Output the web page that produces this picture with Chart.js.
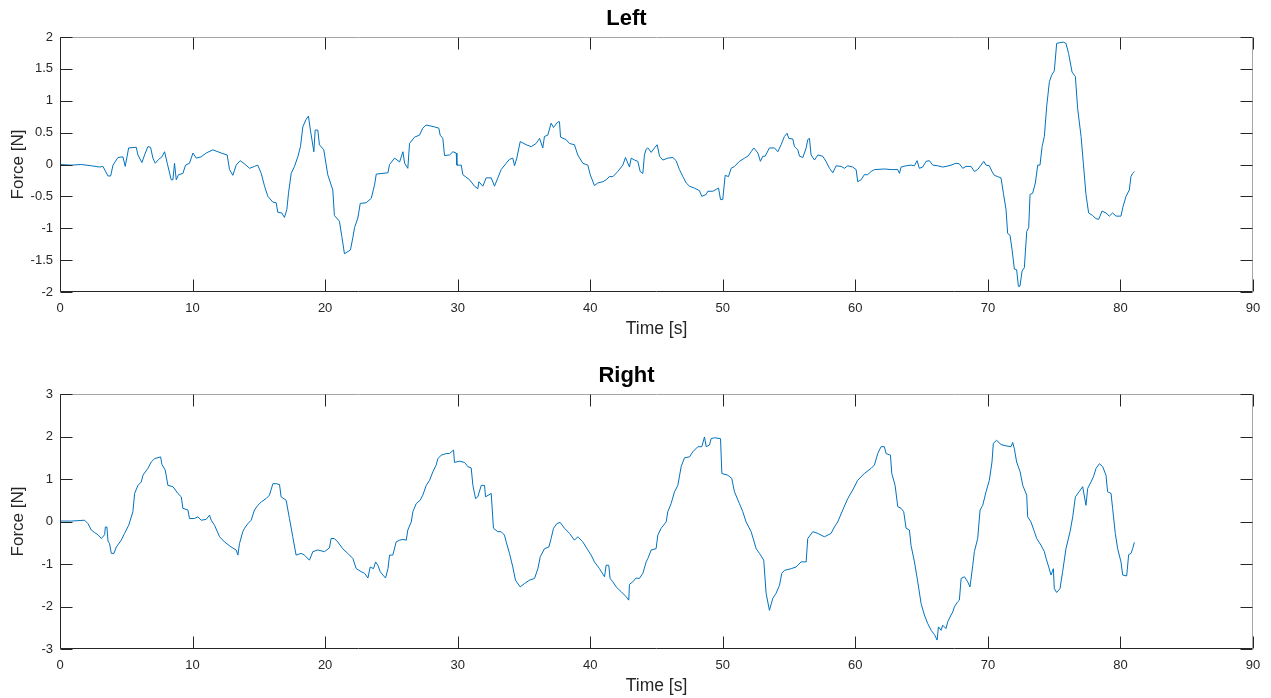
<!DOCTYPE html>
<html>
<head>
<meta charset="utf-8">
<script src="https://cdn.jsdelivr.net/npm/chart.js@4.4.0/dist/chart.umd.min.js"></script>
<style>
body{margin:0;background:#fff;width:1271px;height:698px;overflow:hidden;position:relative}
.box{position:absolute;left:0;width:1271px;height:341px}
</style>
</head>
<body>
<div class="box" style="top:0"><canvas id="leftChart"></canvas></div>
<div class="box" style="top:357px"><canvas id="rightChart"></canvas></div>
<script>
// sampled from the plot, time in s and force in N
var leftTime = [0,0.85,1.61,2.36,2.99,3.24,3.62,3.82,4.0,4.37,4.75,4.92,5.18,5.75,5.88,6.18,6.38,6.63,6.83,7.01,7.19,7.44,7.69,7.89,8.09,8.39,8.52,8.64,8.77,8.94,9.27,9.47,9.77,10.03,10.28,10.65,11.03,11.53,12.16,12.61,12.79,13.04,13.29,13.59,13.92,14.3,14.67,14.92,15.18,15.43,15.68,16.06,16.31,16.43,16.73,16.93,17.11,17.24,17.44,17.69,17.94,18.14,18.32,18.57,18.74,18.89,19.15,19.25,19.45,19.57,19.9,20.2,20.58,20.7,21.08,21.26,21.46,21.91,22.09,22.22,22.47,22.65,23.1,23.48,23.73,23.86,24.74,24.86,25.24,25.62,25.87,26.0,26.24,26.37,26.75,27.12,27.37,27.62,28.25,28.58,28.68,28.88,29.01,29.39,29.64,29.89,29.94,30.27,30.39,30.9,31.27,31.52,31.6,31.9,32.15,32.53,32.78,33.03,33.28,33.66,33.91,34.16,34.29,34.46,34.72,35.17,35.55,35.92,36.18,36.42,36.55,36.8,37.05,37.23,37.56,37.68,37.76,38.18,38.43,38.81,39.06,39.44,39.82,40.0,40.32,40.57,40.95,41.2,41.45,41.71,42.08,42.46,42.66,42.96,43.09,43.34,43.59,43.77,43.97,44.09,44.22,44.35,44.6,44.85,45.05,45.23,45.48,45.85,46.23,46.48,46.73,46.99,47.24,47.49,47.86,48.24,48.42,48.75,48.87,49.25,49.5,49.68,49.83,50.0,50.18,50.43,50.63,50.88,51.26,51.64,51.89,52.14,52.34,52.65,52.84,53.02,53.2,53.52,53.9,54.15,54.4,54.65,54.85,54.98,55.28,55.41,55.66,55.79,56.04,56.29,56.41,56.54,56.66,56.92,57.17,57.54,57.79,58.05,58.3,58.55,58.93,59.18,59.43,59.8,60.06,60.18,60.43,60.68,60.93,61.19,61.44,62.19,62.7,63.2,63.33,63.45,63.83,64.2,64.46,64.66,64.83,65.08,65.34,65.59,65.84,66.22,66.59,66.84,67.22,67.6,67.85,68.1,68.35,68.73,68.98,69.23,69.48,69.69,69.86,70.11,70.31,70.49,70.74,70.99,71.17,71.37,71.49,71.67,71.82,72.0,72.17,72.3,72.42,72.58,72.75,72.93,73.08,73.18,73.38,73.58,73.76,73.93,74.09,74.26,74.44,74.64,74.81,75.01,75.19,75.39,75.69,75.89,76.09,76.35,76.6,76.77,77.03,77.2,77.4,77.6,77.9,78.16,78.36,78.61,78.91,79.16,79.41,79.67,80.04,80.17,80.42,80.67,80.79,80.92,81.05];
var leftForce = [0,-0.01,0,-0.02,-0.04,-0.03,-0.18,-0.18,-0.01,0.11,0.12,-0.03,0.26,0.27,0.15,0.03,0.15,0.28,0.27,0.1,0.02,0.08,0.12,0.2,0.02,-0.24,-0.24,0.02,-0.24,-0.16,-0.14,-0.01,0.02,0.18,0.1,0.12,0.18,0.23,0.18,0.15,-0.08,-0.17,-0.01,0.06,0.01,-0.06,-0.03,-0.01,-0.14,-0.34,-0.5,-0.59,-0.6,-0.75,-0.76,-0.83,-0.71,-0.45,-0.14,-0.03,0.12,0.28,0.59,0.71,0.76,0.54,0.2,0.54,0.54,0.31,0.23,-0.16,-0.4,-0.8,-0.89,-1.13,-1.4,-1.34,-1.15,-0.99,-0.84,-0.61,-0.6,-0.53,-0.32,-0.15,-0.13,0,0.1,0.04,0.2,0.02,-0.06,0.33,0.43,0.46,0.57,0.62,0.59,0.57,0.46,0.41,0.14,0.15,0.2,0.18,-0.01,-0.01,-0.16,-0.24,-0.34,-0.38,-0.27,-0.34,-0.21,-0.21,-0.34,-0.21,-0.08,0.02,0.08,0.1,-0.02,0.1,0.36,0.31,0.28,0.33,0.41,0.26,0.44,0.46,0.65,0.58,0.67,0.67,0.43,0.39,0.33,0.31,0.15,0.02,-0.01,-0.16,-0.33,-0.29,-0.27,-0.24,-0.19,-0.19,-0.11,-0.01,0.11,-0.04,0.1,0.07,0.05,-0.11,-0.14,0.15,0.24,0.26,0.19,0.26,0.31,0.13,0.07,0.1,0.11,0.06,-0.08,-0.19,-0.29,-0.34,-0.37,-0.41,-0.5,-0.47,-0.42,-0.42,-0.39,-0.37,-0.55,-0.55,-0.17,-0.19,-0.06,-0.03,0.05,0.1,0.13,0.2,0.26,0.18,0.05,0.13,0.13,0.26,0.26,0.2,0.31,0.44,0.49,0.41,0.4,0.28,0.23,0.13,0.11,0.26,0.39,0.41,0.15,0.07,0.15,0.13,0.05,-0.06,-0.13,-0.02,-0.03,-0.06,-0.02,-0.04,-0.08,-0.27,-0.24,-0.16,-0.16,-0.11,-0.08,-0.07,-0.08,-0.08,-0.14,-0.04,-0.02,-0.01,-0.02,0.06,-0.06,-0.04,0.05,0.06,-0.01,-0.02,-0.04,-0.03,-0.01,0.02,0.01,-0.06,-0.03,-0.03,-0.11,-0.08,-0.01,0.05,-0.01,-0.02,-0.11,-0.17,-0.19,-0.21,-0.45,-0.71,-1.08,-1.11,-1.33,-1.64,-1.65,-1.91,-1.91,-1.67,-1.62,-1.05,-0.99,-0.47,-0.45,-0.29,-0.01,-0.01,0.28,0.44,0.92,1.3,1.4,1.47,1.9,1.91,1.92,1.9,1.74,1.45,1.38,0.88,0.44,0.02,-0.47,-0.76,-0.8,-0.85,-0.86,-0.73,-0.76,-0.81,-0.76,-0.81,-0.81,-0.68,-0.5,-0.4,-0.19,-0.14,-0.11];

var rightTime = [0,0.85,1.86,2.11,2.36,2.61,2.86,3.12,3.37,3.42,3.54,3.62,3.74,3.87,4.07,4.25,4.62,4.87,5.18,5.5,5.63,5.88,6.13,6.26,6.63,6.88,7.14,7.59,7.69,7.94,8.14,8.52,8.89,9.15,9.27,9.65,9.77,10.15,10.4,10.65,11.03,11.28,11.41,11.66,12.04,12.41,12.91,13.29,13.42,13.54,13.79,13.92,14.17,14.42,14.67,14.92,15.18,15.55,15.8,16.06,16.31,16.56,16.68,17.06,17.31,17.56,17.81,18.19,18.44,18.82,19.07,19.45,19.95,20.33,20.45,20.7,20.95,21.33,21.71,22.09,22.35,22.72,22.98,23.23,23.4,23.65,23.81,23.98,24.16,24.36,24.56,24.74,24.86,25.11,25.36,25.62,25.87,26.12,26.24,26.5,26.62,26.87,27.17,27.37,27.63,27.88,28.13,28.38,28.51,28.76,29.14,29.39,29.69,29.76,30.14,30.52,30.77,31.02,31.15,31.35,31.52,31.78,32.03,32.1,32.53,32.7,33.03,33.28,33.53,33.66,33.91,34.16,34.36,34.72,35.04,35.42,35.8,36.05,36.23,36.55,36.88,37.05,37.23,37.48,37.73,38.06,38.44,38.81,39.06,39.44,39.82,40.07,40.32,40.7,41.08,41.2,41.4,41.5,41.71,41.96,42.33,42.71,42.91,42.96,43.21,43.46,43.71,43.97,44.22,44.35,44.6,44.97,45.1,45.35,45.73,45.85,46.1,46.36,46.61,46.86,47.11,47.49,47.74,48.12,48.42,48.62,48.75,49.0,49.12,49.37,49.83,49.93,50.38,50.68,50.88,51.26,51.51,51.76,52.14,52.52,52.77,53.09,53.27,53.52,53.77,54.02,54.28,54.45,54.65,55.16,55.53,55.91,56.29,56.41,56.79,57.17,57.67,58.17,58.42,58.67,59.05,59.43,59.8,60.18,60.68,61.19,61.44,61.69,61.94,62.19,62.32,62.65,62.75,63.0,63.2,63.45,63.65,63.83,64.08,64.2,64.46,64.71,64.96,65.21,65.46,65.72,65.97,66.17,66.27,66.47,66.59,66.84,66.97,67.22,67.35,67.47,67.72,67.85,67.98,68.23,68.48,68.65,68.86,68.98,69.23,69.41,69.61,69.86,70.11,70.31,70.41,70.66,70.99,71.37,71.75,71.87,71.99,72.17,72.43,72.63,72.93,73.0,73.25,73.51,73.68,74.01,74.26,74.39,74.59,74.76,74.94,75.01,75.19,75.44,75.64,75.89,76.2,76.4,76.6,76.88,77.15,77.4,77.53,77.78,77.96,78.16,78.41,78.66,78.91,79.03,79.29,79.41,79.61,79.79,80.04,80.17,80.47,80.62,80.8,80.92,81.05];
var rightForce = [0.01,0.01,0.03,-0.05,-0.2,-0.26,-0.31,-0.4,-0.31,-0.13,-0.13,-0.46,-0.52,-0.75,-0.75,-0.6,-0.44,-0.28,-0.09,0.23,0.66,0.85,0.93,1.09,1.25,1.4,1.48,1.52,1.34,1.21,0.85,0.82,0.66,0.58,0.31,0.27,0.07,0.07,0.11,0.03,0.05,0.15,0.03,-0.09,-0.36,-0.48,-0.6,-0.67,-0.79,-0.52,-0.24,-0.16,-0.05,0.03,0.27,0.38,0.46,0.54,0.62,0.89,0.89,0.87,0.58,0.5,0.07,-0.36,-0.79,-0.75,-0.79,-0.91,-0.71,-0.67,-0.71,-0.62,-0.4,-0.4,-0.48,-0.64,-0.75,-0.87,-1.11,-1.18,-1.22,-1.33,-1.07,-1.11,-0.95,-1.03,-1.18,-1.26,-1.33,-1.11,-0.79,-0.79,-0.48,-0.44,-0.42,-0.44,-0.2,-0.01,0.23,0.42,0.5,0.62,0.85,0.97,1.17,1.33,1.48,1.56,1.6,1.6,1.68,1.39,1.42,1.39,1.29,1.26,0.85,0.54,0.58,0.85,0.85,0.58,0.66,-0.16,-0.24,-0.24,-0.32,-0.48,-0.75,-1.07,-1.38,-1.54,-1.46,-1.38,-1.34,-1.11,-0.83,-0.64,-0.6,-0.4,-0.16,-0.05,-0.02,-0.16,-0.28,-0.44,-0.36,-0.48,-0.67,-0.79,-0.95,-1.11,-1.3,-1.03,-1.03,-1.34,-1.42,-1.54,-1.65,-1.77,-1.85,-1.48,-1.42,-1.33,-1.34,-1.22,-0.95,-0.87,-0.67,-0.64,-0.32,-0.16,-0.01,0.23,0.42,0.7,0.85,1.29,1.5,1.52,1.64,1.76,1.76,1.99,1.76,1.8,1.95,1.97,1.95,1.13,1.09,1.01,0.7,0.42,0.23,-0.01,-0.24,-0.64,-0.75,-0.91,-1.69,-2.09,-1.81,-1.69,-1.5,-1.22,-1.15,-1.11,-1.07,-0.95,-0.95,-0.4,-0.24,-0.28,-0.36,-0.28,-0.13,-0.01,0.27,0.54,0.74,0.97,1.13,1.25,1.33,1.6,1.76,1.76,1.6,1.56,1.13,0.85,0.35,0.31,0.23,-0.16,-0.2,-0.56,-0.95,-1.42,-1.93,-2.2,-2.4,-2.56,-2.66,-2.79,-2.48,-2.56,-2.44,-2.52,-2.36,-2.2,-2.13,-2.01,-1.89,-1.85,-1.34,-1.3,-1.42,-1.54,-1.03,-0.71,-0.4,0.27,0.38,0.7,0.97,1.4,1.84,1.91,1.81,1.78,1.76,1.86,1.72,1.4,1.17,0.85,0.62,0.11,-0.01,-0.24,-0.4,-0.56,-0.71,-0.87,-1.07,-1.26,-1.11,-1.58,-1.67,-1.58,-1.18,-0.64,-0.24,0.11,0.58,0.7,0.82,0.38,0.78,0.93,1.05,1.25,1.36,1.29,1.09,0.7,0.66,0.31,-0.28,-0.64,-0.95,-1.26,-1.28,-0.78,-0.75,-0.64,-0.49];

var xTicks = [0,10,20,30,40,50,60,70,80,90];
var leftTicks = [-2,-1.5,-1,-0.5,0,0.5,1,1.5,2];
var rightTicks = [-3,-2,-1,0,1,2,3];

var axisColor = '#262626';
var boxEdgeColor = '#a6a6a6';
var fontFam = '"Liberation Sans", Arial, Helvetica, sans-serif';

function toPoints(t, v) {
  var pts = [];
  for (var i = 0; i < t.length; i++) pts.push({x: t[i], y: v[i]});
  return pts;
}

// matlab style box with inward ticks on all four sides
var matlabBox = {
  id: 'matlabBox',
  afterDraw: function(chart) {
    var ctx = chart.ctx, a = chart.chartArea;
    var xs = chart.scales.x, ys = chart.scales.y;
    var tl = 12;
    var L = Math.round(a.left) + 0.5, R = Math.round(a.right) - 0.5;
    var T = Math.round(a.top) + 0.5, B = Math.round(a.bottom) - 0.5;
    ctx.save();
    ctx.lineWidth = 1;
    // top and right edges come out lighter in the original
    ctx.strokeStyle = boxEdgeColor;
    ctx.beginPath();
    ctx.moveTo(L, T); ctx.lineTo(R, T); ctx.lineTo(R, B);
    ctx.stroke();
    ctx.strokeStyle = axisColor;
    ctx.beginPath();
    ctx.moveTo(L, T); ctx.lineTo(L, B); ctx.lineTo(R, B);
    xs.ticks.forEach(function(tk) {
      var px = Math.round(xs.getPixelForValue(tk.value)) + 0.5;
      ctx.moveTo(px, B); ctx.lineTo(px, B - tl);
      ctx.moveTo(px, T); ctx.lineTo(px, T + tl);
    });
    ys.ticks.forEach(function(tk) {
      var py = Math.round(ys.getPixelForValue(tk.value)) + 0.5;
      ctx.moveTo(L, py); ctx.lineTo(L + tl, py);
      ctx.moveTo(R, py); ctx.lineTo(R - tl, py);
    });
    ctx.stroke();
    ctx.restore();
  }
};

function makeChart(id, title, t, v, yTicks) {
  return new Chart(document.getElementById(id), {
    type: 'line',
    data: {
      datasets: [{
        data: toPoints(t, v),
        borderColor: '#0072BD',
        borderWidth: 1,
        pointRadius: 0,
        tension: 0,
        fill: false
      }]
    },
    options: {
      responsive: true,
      maintainAspectRatio: false,
      animation: false,
      layout: {padding: {left: 0, right: 18, top: 0, bottom: 0}},
      plugins: {
        legend: {display: false},
        tooltip: {enabled: false},
        title: {
          display: true,
          text: title,
          color: '#000',
          font: {family: fontFam, size: 22, weight: 'bold'},
          padding: {top: 6, bottom: 4.6}
        }
      },
      scales: {
        x: {
          type: 'linear',
          min: xTicks[0],
          max: xTicks[xTicks.length - 1],
          afterBuildTicks: function(s) { s.ticks = xTicks.map(function(x) { return {value: x}; }); },
          afterFit: function(s) { s.height = 49; },
          grid: {display: false, drawTicks: false},
          border: {display: false},
          ticks: {
            color: axisColor, padding: 9, autoSkip: false, maxRotation: 0,
            font: {family: fontFam, size: 13},
            callback: function(val) { return String(val); }
          },
          title: {
            display: true, text: 'Time [s]', color: axisColor,
            font: {family: fontFam, size: 17.5},
            padding: {top: 0, bottom: 1.5}
          }
        },
        y: {
          min: yTicks[0],
          max: yTicks[yTicks.length - 1],
          afterBuildTicks: function(s) { s.ticks = yTicks.map(function(y) { return {value: y}; }); },
          afterFit: function(s) { s.width = 60; },
          grid: {display: false, drawTicks: false},
          border: {display: false},
          ticks: {
            color: axisColor, padding: 7, autoSkip: false,
            font: {family: fontFam, size: 13},
            callback: function(val) { return String(val); }
          },
          title: {
            display: true, text: 'Force [N]', color: axisColor,
            font: {family: fontFam, size: 17},
            padding: {top: 8, bottom: 0}
          }
        }
      }
    },
    plugins: [matlabBox]
  });
}

makeChart('leftChart', 'Left', leftTime, leftForce, leftTicks);
makeChart('rightChart', 'Right', rightTime, rightForce, rightTicks);
</script>
</body>
</html>
